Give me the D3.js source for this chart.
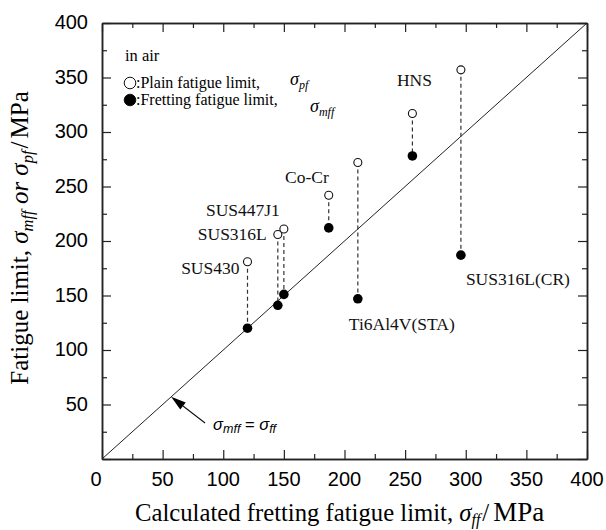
<!DOCTYPE html>
<html>
<head>
<meta charset="utf-8">
<script src="https://cdn.jsdelivr.net/npm/d3@7"></script>
<style>
  body { margin: 0; background: #fff; }
  .serif { font-family: "Liberation Serif", "Times New Roman", serif; }
  .sans { font-family: "Liberation Sans", Arial, sans-serif; }
</style>
</head>
<body>
<script>
// Values (MPa)
let materials = ["SUS430", "SUS316L", "SUS447J1", "Co-Cr", "Ti6Al4V(STA)", "HNS", "SUS316L(CR)"];
let calcLimit = [120, 145, 150, 187, 211, 256, 296];      // sigma_ff
let plainLimit = [181, 206, 211, 242, 272, 317, 357];     // sigma_pf (open)
let frettingLimit = [120, 141, 151, 212, 147, 278, 187];  // sigma_mff (filled)

let majorTicks = [0, 50, 100, 150, 200, 250, 300, 350, 400];
let minorTicks = [25, 75, 125, 175, 225, 275, 325, 375];

// where the arrow sits, in data units
let arrowTip = [57, 57];
let arrowTail = [85, 33];

// label placement, relative to a point (pixels)
let labelPlace = {
  "SUS430":       { at: "open",   anchor: "end",    dx: -8,  dy: 12.5 },
  "SUS316L":      { at: "open",   anchor: "end",    dx: -11, dy: 5.5 },
  "SUS447J1":     { at: "open",   anchor: "end",    dx: -4,  dy: -13 },
  "Co-Cr":        { at: "open",   anchor: "end",    dx: 0,   dy: -12.5 },
  "HNS":          { at: "open",   anchor: "middle", dx: 2,   dy: -27.5 },
  "Ti6Al4V(STA)": { at: "filled", anchor: "start",  dx: -9,  dy: 31 },
  "SUS316L(CR)":  { at: "filled", anchor: "start",  dx: 5,   dy: 30 }
};

let margin = { top: 23, right: 19, bottom: 71, left: 102 };
let width = 606 - margin.left - margin.right;
let height = 530 - margin.top - margin.bottom;

let root = d3.select("body")
  .append("svg")
    .attr("width", 606)
    .attr("height", 530);

let svg = root.append("g")
    .attr("transform", "translate(" + margin.left + "," + margin.top + ")");

let x = d3.scaleLinear().domain([0, 400]).range([0, width]);
let y = d3.scaleLinear().domain([0, 400]).range([height, 0]);

// axes on all four sides, ticks pointing inward
function addAxis(axis, transform, size, values) {
  let g = svg.append("g")
    .attr("transform", transform)
    .call(axis.tickValues(values).tickSize(-size).tickSizeOuter(0).tickFormat(""));
  g.selectAll("line").attr("stroke", "#222").attr("stroke-width", 1.2);
  g.select(".domain").attr("stroke", "#222").attr("stroke-width", 1.5);
  return g;
}

addAxis(d3.axisBottom(x), "translate(0," + height + ")", 9, majorTicks);
addAxis(d3.axisBottom(x), "translate(0," + height + ")", 5, minorTicks);
addAxis(d3.axisTop(x), "translate(0,0)", 9, majorTicks);
addAxis(d3.axisTop(x), "translate(0,0)", 5, minorTicks);
addAxis(d3.axisLeft(y), "translate(0,0)", 9, majorTicks);
addAxis(d3.axisLeft(y), "translate(0,0)", 5, minorTicks);
addAxis(d3.axisRight(y), "translate(" + width + ",0)", 9, majorTicks);
addAxis(d3.axisRight(y), "translate(" + width + ",0)", 5, minorTicks);

// tick labels
svg.selectAll(".xlab")
  .data(majorTicks).enter().append("text")
  .attr("class", "sans")
  .attr("x", (d) => x(d) - (d === 0 ? 6 : 0))
  .attr("y", height + 27)
  .attr("text-anchor", "middle")
  .attr("font-size", 20)
  .text((d) => d);

svg.selectAll(".ylab")
  .data(majorTicks.slice(1)).enter().append("text")
  .attr("class", "sans")
  .attr("x", -14)
  .attr("y", (d) => y(d) + 6)
  .attr("text-anchor", "end")
  .attr("font-size", 20)
  .text((d) => d);

// 1:1 line
svg.append("line")
  .attr("x1", x(0)).attr("y1", y(0))
  .attr("x2", x(400)).attr("y2", y(400))
  .attr("stroke", "#222").attr("stroke-width", 1);

let rows = materials.map((m, i) => ({
  name: m, calc: calcLimit[i], plain: plainLimit[i], fret: frettingLimit[i]
}));

// dashed connectors
svg.selectAll(".link")
  .data(rows).enter().append("line")
  .attr("x1", (d) => x(d.calc)).attr("x2", (d) => x(d.calc))
  .attr("y1", (d) => y(d.plain)).attr("y2", (d) => y(d.fret))
  .attr("stroke", "#333").attr("stroke-width", 1.2)
  .attr("stroke-dasharray", "4,3");

svg.selectAll(".plain")
  .data(rows).enter().append("circle")
  .attr("cx", (d) => x(d.calc)).attr("cy", (d) => y(d.plain))
  .attr("r", 4)
  .attr("fill", "#fff").attr("stroke", "#111").attr("stroke-width", 1.1);

svg.selectAll(".fret")
  .data(rows).enter().append("circle")
  .attr("cx", (d) => x(d.calc)).attr("cy", (d) => y(d.fret))
  .attr("r", 4.8)
  .attr("fill", "#000");

// material labels
svg.selectAll(".mat")
  .data(rows).enter().append("text")
  .attr("class", "serif")
  .attr("font-size", 17.5)
  .attr("fill", "#111")
  .attr("text-anchor", (d) => labelPlace[d.name].anchor)
  .attr("x", (d) => x(d.calc) + labelPlace[d.name].dx)
  .attr("y", (d) => (labelPlace[d.name].at === "open" ? y(d.plain) : y(d.fret)) + labelPlace[d.name].dy)
  .text((d) => d.name);

// arrow pointing at the 1:1 line
let tip = [x(arrowTip[0]), y(arrowTip[1])];
let tail = [x(arrowTail[0]), y(arrowTail[1])];
let ang = Math.atan2(tail[1] - tip[1], tail[0] - tip[0]);
let headLen = 15, headW = 4.5;
let base = [tip[0] + headLen * Math.cos(ang), tip[1] + headLen * Math.sin(ang)];
svg.append("line")
  .attr("x1", base[0]).attr("y1", base[1])
  .attr("x2", tail[0]).attr("y2", tail[1])
  .attr("stroke", "#111").attr("stroke-width", 1.1);
svg.append("polygon")
  .attr("points", [
    tip,
    [base[0] - headW * Math.sin(ang), base[1] + headW * Math.cos(ang)],
    [base[0] + headW * Math.sin(ang), base[1] - headW * Math.cos(ang)]
  ].map((p) => p.join(",")).join(" "))
  .attr("fill", "#000");

let eq = svg.append("text")
  .attr("class", "sans")
  .attr("x", tail[0] + 8)
  .attr("y", tail[1] + 7)
  .attr("font-size", 16.5)
  .attr("font-style", "italic");
eq.append("tspan").text("σ");
eq.append("tspan").attr("font-size", 12.5).attr("dy", 3).text("mff");
eq.append("tspan").attr("dy", -3).attr("font-style", "normal").text(" = ");
eq.append("tspan").text("σ");
eq.append("tspan").attr("font-size", 12.5).attr("dy", 3).text("ff");

// legend
svg.append("text")
  .attr("class", "serif")
  .attr("x", 23).attr("y", 38)
  .attr("font-size", 16.5)
  .text("in air");

let legend = [
  { label: ":Plain fatigue limit,", fill: "#fff", sub: "pf", sx: 188, sy: 62 },
  { label: ":Fretting fatigue limit,", fill: "#000", sub: "mff", sx: 208, sy: 89 }
];
legend.forEach((l, i) => {
  let cy = 60 + i * 17;
  svg.append("circle")
    .attr("cx", 28).attr("cy", cy).attr("r", 5.8)
    .attr("fill", l.fill).attr("stroke", "#111").attr("stroke-width", 1);
  svg.append("text")
    .attr("class", "serif")
    .attr("x", 34).attr("y", cy + 4.5)
    .attr("font-size", 16)
    .text(l.label);
  let s = svg.append("text")
    .attr("class", "serif")
    .attr("x", l.sx).attr("y", l.sy)
    .attr("font-size", 18)
    .attr("font-style", "italic");
  s.append("tspan").text("σ");
  s.append("tspan").attr("font-size", 12).attr("dy", 4).text(l.sub);
});

// axis titles
let xt = root.append("text")
  .attr("class", "serif")
  .attr("x", 135).attr("y", 521)
  .attr("font-size", 24.7);
xt.append("tspan").text("Calculated fretting fatigue limit,  ");
xt.append("tspan").attr("font-style", "italic").text("σ");
xt.append("tspan").attr("font-style", "italic").attr("font-size", 16).attr("dy", 4).text("ff");
xt.append("tspan").attr("dy", -4).attr("dx", 2).text("/");
xt.append("tspan").attr("dx", 4).attr("font-size", 27).text("MPa");

let yt = root.append("text")
  .attr("class", "serif")
  .attr("transform", "translate(28," + 238 + ") rotate(-90)")
  .attr("text-anchor", "middle")
  .attr("font-size", 25);
yt.append("tspan").text("Fatigue limit, ");
yt.append("tspan").attr("font-style", "italic").text("σ");
yt.append("tspan").attr("font-style", "italic").attr("font-size", 16.5).attr("dy", 5).text("mff");
yt.append("tspan").attr("font-style", "italic").attr("dy", -5).text(" or ");
yt.append("tspan").attr("font-style", "italic").text("σ");
yt.append("tspan").attr("font-style", "italic").attr("font-size", 16.5).attr("dy", 5).text("pf");
yt.append("tspan").attr("dy", -5).attr("dx", 2).text("/");
yt.append("tspan").attr("dx", 3).text("MPa");
</script>
</body>
</html>
